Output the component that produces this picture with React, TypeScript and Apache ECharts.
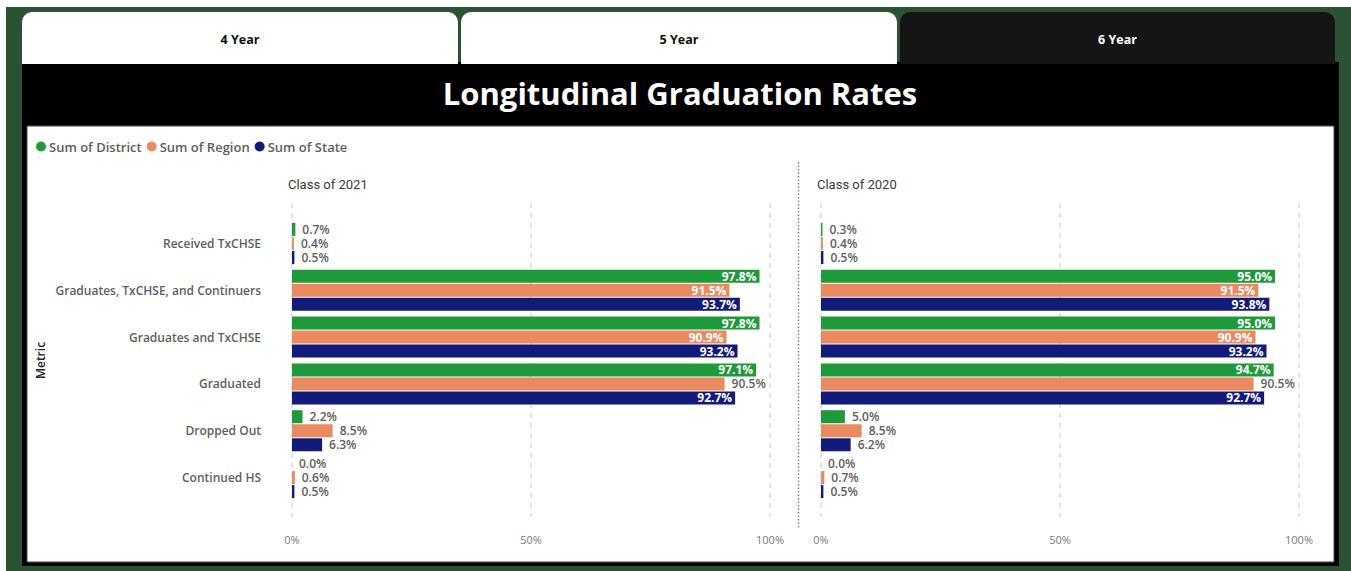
import React, { useEffect, useRef } from "react";
import * as echarts from "echarts";

const categories = [
  "Received TxCHSE",
  "Graduates, TxCHSE, and Continuers",
  "Graduates and TxCHSE",
  "Graduated",
  "Dropped Out",
  "Continued HS",
];
const seriesNames = ["Sum of District", "Sum of Region", "Sum of State"];
const seriesColors = ["#1F9A3B", "#EA8A61", "#121A7A"];

const district2021 = [0.7, 97.8, 97.8, 97.1, 2.2, 0.0];
const region2021 = [0.4, 91.5, 90.9, 90.5, 8.5, 0.6];
const state2021 = [0.5, 93.7, 93.2, 92.7, 6.3, 0.5];

const district2020 = [0.3, 95.0, 95.0, 94.7, 5.0, 0.0];
const region2020 = [0.4, 91.5, 90.9, 90.5, 8.5, 0.7];
const state2020 = [0.5, 93.8, 93.2, 92.7, 6.2, 0.5];

const panelTitles = ["Class of 2021", "Class of 2020"];
const tabLabels = ["4 Year", "5 Year", "6 Year"];
const axisMin = 0;
const axisMax = 100;
const axisInterval = 50;

const FONT = "'Open Sans', 'Noto Sans', sans-serif";
const GREY = "#605E5C";

function labelFor(value: number, seriesIdx: number, catIdx: number) {
  const inside = value >= 50 && !(seriesIdx === 1 && categories[catIdx] === "Graduated");
  return inside
    ? {
        show: true,
        position: "insideRight",
        distance: 3,
        color: "#ffffff",
        fontWeight: 700,
        fontSize: 12,
        lineHeight: 12,
        fontFamily: FONT,
      }
    : {
        show: true,
        position: "right",
        distance: 7,
        color: GREY,
        fontWeight: 600,
        fontSize: 12,
        lineHeight: 12,
        fontFamily: FONT,
      };
}

function makeSeries(values: number[][], gridIdx: number) {
  return values.map((vals, si) => ({
    type: "bar",
    name: seriesNames[si],
    xAxisIndex: gridIdx,
    yAxisIndex: gridIdx,
    barWidth: 13,
    barGap: "8%",
    itemStyle: { color: seriesColors[si] },
    label: { formatter: (p: any) => `${Number(p.value).toFixed(1)}%` },
    data: vals.map((v, ci) => ({ value: v, label: labelFor(v, si, ci) })),
  }));
}

export default function App() {
  const ref = useRef<HTMLDivElement>(null);

  useEffect(() => {
    if (!ref.current) return;
    const chart = echarts.init(ref.current, undefined, { renderer: "svg" });

    const tabs = [
      { x: 22, w: 436, fill: "#ffffff", color: "#111111" },
      { x: 461, w: 436, fill: "#ffffff", color: "#111111" },
      { x: 900, w: 435, fill: "#151515", color: "#ffffff" },
    ];

    const graphics: any[] = [
      { type: "rect", z: -10, shape: { x: 6, y: 7, width: 1345, height: 564 }, style: { fill: "#2C5234" }, silent: true },
      ...tabs.map((t, i) => ({
        type: "group",
        z: -9,
        silent: true,
        children: [
          { type: "rect", shape: { x: t.x, y: 12, width: t.w, height: 52, r: [10, 10, 0, 0] }, style: { fill: t.fill } },
          {
            type: "text",
            x: t.x + t.w / 2,
            y: 39,
            style: { text: tabLabels[i], fill: t.color, font: `bold 12.5px ${FONT}`, align: "center", verticalAlign: "middle" },
          },
        ],
      })),
      { type: "rect", z: -8, silent: true, shape: { x: 22, y: 62, width: 1317, height: 504 }, style: { fill: "#000000" } },
      { type: "rect", z: -7, silent: true, shape: { x: 27, y: 126, width: 1307, height: 436 }, style: { fill: "#ffffff", stroke: "#4a4a4a", lineWidth: 1 } },
      {
        type: "text",
        z: 5,
        x: 680,
        y: 93,
        style: { text: "Longitudinal Graduation Rates", fill: "#ffffff", font: `bold 31px ${FONT}`, align: "center", verticalAlign: "middle" },
      },
      {
        type: "text",
        x: 288,
        y: 184,
        style: { text: panelTitles[0], fill: "#3A3A3A", font: `13px Roboto, sans-serif`, align: "left", verticalAlign: "middle" },
      },
      {
        type: "text",
        x: 817,
        y: 184,
        style: { text: panelTitles[1], fill: "#3A3A3A", font: `13px Roboto, sans-serif`, align: "left", verticalAlign: "middle" },
      },
      {
        type: "line",
        shape: { x1: 798.5, y1: 162, x2: 798.5, y2: 529 },
        style: { stroke: "#808080", lineWidth: 1.5, lineDash: [1.5, 2] },
      },
    ];

    const gridLineAxis = {
      type: "value",
      min: axisMin,
      max: axisMax,
      interval: axisInterval,
      axisLine: { show: false },
      axisTick: { show: false },
      splitLine: { show: true, lineStyle: { color: "#DADADA", width: 1.5, type: [5, 5] } },
      axisLabel: { formatter: "{value}%", color: "#7A7A7A", fontSize: 11, fontFamily: FONT, margin: 17 },
    };

    const option: any = {
      animation: false,
      backgroundColor: "#ffffff",
      graphic: graphics,
      legend: {
        left: 31,
        top: 135,
        icon: "circle",
        itemWidth: 10,
        itemHeight: 10,
        itemGap: 5,
        textStyle: { color: GREY, fontSize: 13, fontWeight: 600, fontFamily: FONT, padding: [0, 0, 0, -2] },
        data: seriesNames,
      },
      grid: [
        { left: 292, top: 220, width: 478, height: 281, containLabel: false },
        { left: 821, top: 220, width: 478, height: 281, containLabel: false },
        { left: 292, top: 203, width: 478, height: 314, containLabel: false },
        { left: 821, top: 203, width: 478, height: 314, containLabel: false },
      ],
      xAxis: [
        { type: "value", gridIndex: 0, min: axisMin, max: axisMax, show: false },
        { type: "value", gridIndex: 1, min: axisMin, max: axisMax, show: false },
        { ...gridLineAxis, gridIndex: 2 },
        { ...gridLineAxis, gridIndex: 3 },
      ],
      yAxis: [
        {
          type: "category",
          gridIndex: 0,
          inverse: true,
          data: categories,
          axisLine: { show: false },
          axisTick: { show: false },
          splitLine: { show: false },
          axisLabel: { color: GREY, fontSize: 12, fontWeight: 600, fontFamily: FONT, margin: 31 },
          name: "Metric",
          nameLocation: "middle",
          nameGap: 246,
          nameTextStyle: { color: "#252423", fontSize: 12, fontWeight: 600, fontFamily: FONT },
        },
        {
          type: "category",
          gridIndex: 1,
          inverse: true,
          data: categories,
          axisLine: { show: false },
          axisTick: { show: false },
          axisLabel: { show: false },
        },
        { type: "value", gridIndex: 2, min: 0, max: 1, show: false },
        { type: "value", gridIndex: 3, min: 0, max: 1, show: false },
      ],
      series: [
        ...makeSeries([district2021, region2021, state2021], 0),
        ...makeSeries([district2020, region2020, state2020], 1),
      ],
    };

    chart.setOption(option);
    return () => chart.dispose();
  }, []);

  return (
    <div
      ref={ref}
      style={{ position: "absolute", left: 0, top: 0, width: 1351, height: 571 }}
    />
  );
}
